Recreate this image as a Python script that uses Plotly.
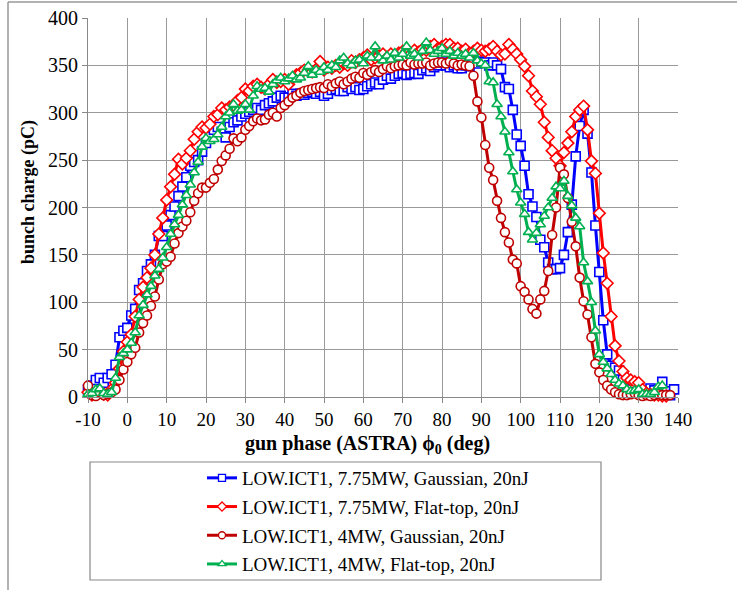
import plotly.graph_objects as go

PHASE = [-10, -9, -8, -7, -6, -5, -4, -3, -2, -1,
         0, 1, 2, 3, 4, 5, 6, 7, 8, 9,
         10, 11, 12, 13, 14, 15, 16, 17, 18, 19,
         20, 21, 22, 23, 24, 25, 26, 27, 28, 29,
         30, 31, 32, 33, 34, 35, 36, 37, 38, 39,
         40, 41, 42, 43, 44, 45, 46, 47, 48, 49,
         50, 51, 52, 53, 54, 55, 56, 57, 58, 59,
         60, 61, 62, 63, 64, 65, 66, 67, 68, 69,
         70, 71, 72, 73, 74, 75, 76, 77, 78, 79,
         80, 81, 82, 83, 84, 85, 86, 87, 88, 89,
         90, 91, 92, 93, 94, 95, 96, 97, 98, 99,
         100, 101, 102, 103, 104, 105, 106, 107, 108, 109,
         110, 111, 112, 113, 114, 115, 116, 117, 118, 119,
         120, 121, 122, 123, 124, 125, 126, 127, 128, 129,
         130, 131, 132, 133, 134, 135, 136, 137, 138, 139]

# LOW.ICT1, 7.75MW, Gaussian (-10 .. 139)
BLUE_775_GAUSS = [8, 12, 18, 20, 15, 20, 24, 34, 63, 70,
                  73, 86, 93, 113, 120, 133, 140, 150, 170, 170,
                  181, 192, 201, 212, 222, 232, 244, 248, 250, 259,
                  268, 275, 282, 285, 280, 274, 285, 290, 292, 296,
                  299, 301, 303, 305, 303, 308, 310, 312, 316, 318,
                  316, 316, 320, 318, 320, 319, 321, 322, 320, 322,
                  318, 320, 324, 325, 323, 323, 327, 325, 327, 324,
                  325, 328, 330, 332, 330, 335, 339, 336, 339, 341,
                  342, 340, 341, 342, 341, 345, 347, 344, 348, 350,
                  353, 350, 348, 350, 347, 347, 350, 349, 353, 352,
                  354, 353, 350, 353, 350, 346, 327, 325, 303, 277,
                  265, 244, 214, 201, 190, 166, 158, 142, 135, 135,
                  136, 150, 174, 203, 254, 286, 303, 278, 237, 181,
                  132, 81, 45, 33, 31, 28, 18, 9, 8, 5,
                  5, 5, 6, 9, 7, 5, 16, 6, 2, 8]

# LOW.ICT1, 7.75MW, Flat-top (-10 .. 137)
RED_775_FLAT = [5, 2, 3, 5, 3, 2, 8, 15, 30, 48,
                58, 66, 85, 103, 116, 126, 136, 150, 172, 189,
                208, 222, 235, 251, 246, 252, 260, 272, 280, 285,
                284, 288, 296, 298, 305, 303, 306, 308, 313, 316,
                325, 323, 328, 330, 327, 325, 330, 335, 332, 333,
                335, 330, 337, 340, 342, 345, 345, 343, 346, 354,
                345, 348, 347, 350, 348, 352, 350, 355, 353, 356,
                358, 361, 356, 358, 360, 362, 358, 362, 360, 363,
                365, 365, 362, 366, 364, 367, 366, 370, 372, 368,
                370, 372, 372, 368, 368, 365, 367, 363, 365, 368,
                366, 365, 367, 370, 365, 361, 362, 372, 367, 362,
                356, 349, 339, 323, 317, 309, 290, 274, 260, 252,
                244, 258, 268, 280, 296, 303, 307, 282, 249, 236,
                194, 152, 120, 85, 54, 38, 27, 20, 18, 16,
                15, 8, 4, 3, 2, 2, 1, 1]

# LOW.ICT1, 4MW, Gaussian (-10 .. 138)
DRED_4_GAUSS = [12, 2, 1, 5, 2, 3, 5, 8, 18, 29,
                37, 45, 52, 68, 78, 86, 96, 106, 124, 140,
                143, 148, 162, 173, 180, 186, 195, 207, 215, 221,
                221, 226, 230, 240, 249, 255, 262, 273, 270, 274,
                282, 286, 291, 294, 292, 293, 298, 300, 296, 305,
                308, 312, 316, 318, 321, 323, 324, 325, 326, 327,
                326, 330, 328, 331, 333, 330, 333, 336, 338, 337,
                342, 340, 343, 345, 343, 346, 349, 347, 349, 350,
                351, 350, 353, 351, 352, 352, 353, 350, 352, 353,
                353, 352, 354, 352, 350, 351, 350, 349, 339, 312,
                295, 266, 242, 229, 207, 189, 174, 163, 145, 141,
                117, 111, 103, 93, 88, 103, 112, 133, 171, 200,
                242, 235, 210, 185, 159, 126, 101, 87, 63, 35,
                26, 18, 12, 8, 5, 3, 2, 2, 3, 4,
                2, 1, 2, 1, 2, 3, 2, 2, 2]

# LOW.ICT1, 4MW, Flat-top (-10 .. 136)
GREEN_4_FLAT = [3, 4, 8, 9, 4, 3, 5, 20, 42, 46,
                50, 57, 68, 86, 97, 108, 117, 128, 135, 147,
                158, 172, 182, 192, 203, 213, 224, 237, 248, 264,
                273, 270, 272, 277, 285, 296, 300, 309, 302, 303,
                309, 303, 318, 328, 325, 326, 322, 330, 334, 337,
                333, 336, 339, 335, 337, 342, 349, 340, 345, 343,
                348, 345, 350, 348, 355, 358, 352, 350, 355, 356,
                352, 360, 358, 370, 358, 355, 360, 356, 363, 358,
                362, 370, 360, 362, 358, 365, 374, 366, 362, 365,
                368, 362, 365, 360, 363, 360, 362, 358, 363, 355,
                352, 350, 333, 332, 309, 296, 280, 258, 238, 219,
                205, 193, 174, 166, 173, 182, 191, 200, 210, 222,
                220, 228, 212, 202, 189, 180, 142, 122, 100, 70,
                45, 37, 30, 24, 18, 14, 12, 8, 6, 7,
                8, 3, 3, 3, 5, 11, 12]

SERIES_NAMES = ["LOW.ICT1, 7.75MW, Gaussian, 20nJ",
                "LOW.ICT1, 7.75MW, Flat-top, 20nJ",
                "LOW.ICT1, 4MW, Gaussian, 20nJ",
                "LOW.ICT1, 4MW, Flat-top, 20nJ"]

X_TICKS = [-10, 0, 10, 20, 30, 40, 50, 60, 70, 80, 90, 100, 110, 120, 130, 140]
X_TICK_TEXT = ["-10", "0", "10", "20", "30", "40", "50", "60", "70", "80",
               "90", "100", "110", "120", "130", "140"]
Y_TICKS = [0, 50, 100, 150, 200, 250, 300, 350, 400]

X_TITLE = "<b>gun phase (ASTRA) ϕ<sub>0</sub> (deg)</b>"
Y_TITLE = "<b>bunch charge (pC)</b>"

FONT = "Liberation Serif, Times New Roman, serif"

styles = [
    ("#0000FF", "square"),
    ("#FF0000", "diamond"),
    ("#C00000", "circle"),
    ("#00B050", "triangle-up"),
]
data = [BLUE_775_GAUSS, RED_775_FLAT, DRED_4_GAUSS, GREEN_4_FLAT]

# plot-area pixel frame: x 88..678, y 18..397
PL, PR, PT, PB = 88, 678, 18, 397
def px(xp):
    return (xp - PL) / (PR - PL)
def py(yp):
    return (PB - yp) / (PB - PT)

fig = go.Figure()
for i, (vals, name, (col, sym)) in enumerate(zip(data, SERIES_NAMES, styles)):
    fig.add_trace(go.Scatter(
        x=PHASE[:len(vals)], y=vals, name=name, mode="lines+markers",
        line=dict(color=col, width=3),
        marker=dict(symbol=sym, size=9, color="white",
                    line=dict(color=col, width=1.6)),
        cliponaxis=False, showlegend=False,
    ))
# legend entries (smaller sample markers, as in the reference)
for i, (name, (col, sym)) in enumerate(zip(SERIES_NAMES, styles)):
    fig.add_trace(go.Scatter(
        x=[None], y=[None], name=name, mode="lines+markers",
        line=dict(color=col, width=3),
        marker=dict(symbol=sym, size=7, color="white",
                    line=dict(color=col, width=1.3)),
        showlegend=True, legendgroup=f"g{i}",
    ))

fig.update_layout(
    width=737, height=590,
    margin=dict(l=PL, r=737 - PR, t=PT, b=590 - PB, autoexpand=False),
    paper_bgcolor="white", plot_bgcolor="white",
    font=dict(family=FONT, size=20, color="black"),
    showlegend=True,
    legend=dict(x=px(202), y=py(459), xanchor="left", yanchor="top",
                font=dict(family=FONT, size=19, color="black"),
                bgcolor="rgba(0,0,0,0)", borderwidth=0,
                tracegroupgap=1, itemwidth=30),
    shapes=[
        dict(type="rect", xref="paper", yref="paper",
             x0=px(90), x1=px(601), y0=py(580), y1=py(462),
             line=dict(color="#888888", width=1.2)),
        dict(type="line", xref="paper", yref="paper",
             x0=px(8), x1=px(8), y0=py(2), y1=py(600),
             line=dict(color="#999999", width=1.5)),
        dict(type="line", xref="paper", yref="paper",
             x0=px(8), x1=px(740), y0=py(2), y1=py(2),
             line=dict(color="#999999", width=1.5)),
    ],
    annotations=[
        dict(text=X_TITLE, xref="paper", yref="paper", x=px(367), y=py(444),
             xanchor="center", yanchor="middle", showarrow=False,
             font=dict(family=FONT, size=20, color="black")),
        dict(text=Y_TITLE, xref="paper", yref="paper", x=px(28), y=py(192),
             xanchor="center", yanchor="middle", showarrow=False, textangle=-90,
             font=dict(family=FONT, size=18, color="black")),
    ],
)
fig.update_xaxes(
    range=[-10, 140], tickvals=X_TICKS, ticktext=X_TICK_TEXT,
    showgrid=True, gridcolor="#999999", gridwidth=1,
    showline=True, linecolor="#888888", linewidth=1,
    ticks="outside", ticklen=5, tickcolor="#888888",
    zeroline=False, tickfont=dict(size=19),
)
fig.update_yaxes(
    range=[0, 400], tickvals=Y_TICKS,
    showgrid=True, gridcolor="#999999", gridwidth=1,
    showline=True, linecolor="#888888", linewidth=1,
    ticks="outside", ticklen=5, tickcolor="#888888",
    zeroline=False, tickfont=dict(size=20),
)
fig.write_html("out.html")
